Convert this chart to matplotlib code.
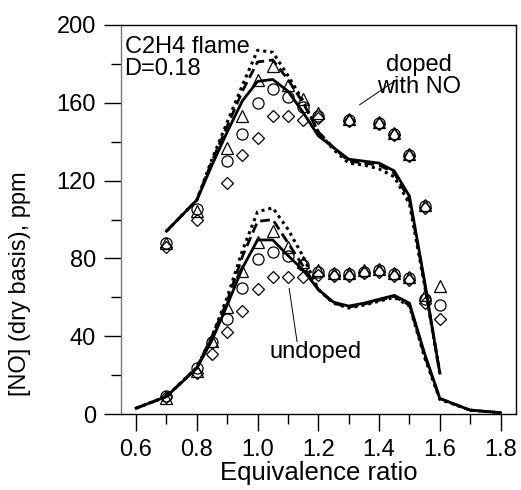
import numpy as np
import matplotlib
matplotlib.use("Agg")
import matplotlib.pyplot as plt
from matplotlib.ticker import MultipleLocator

plt.rcParams["font.family"] = ["Liberation Sans", "DejaVu Sans"]

# =====================
# Дані: експеримент (маркери)
# =====================
phi_doped_exp = [0.7, 0.8, 0.9, 0.95, 1.0, 1.05, 1.1, 1.15, 1.2, 1.3, 1.4, 1.45, 1.5, 1.55, 1.6]
doped_tri = [88, 104.5, 137, 153, 171.5, 179, 169, 162, 155, 151.5, 150, 144.5, 133.5, 107.5, 66]
doped_circ = [88, 105.5, 130, 144, 160, 167, 163, 158, 153, 151, 149.5, 144, 133, 107, 56]
doped_diam = [86, 100, 119, 133, 142, 153, 153, 151, 152, 150.5, 149, 143.5, 132.5, 106, 49]

phi_undoped_exp = [0.7, 0.8, 0.85, 0.9, 0.95, 1.0, 1.05, 1.1, 1.15, 1.2, 1.25, 1.3, 1.35, 1.4, 1.45, 1.5, 1.55]
undoped_tri = [8, 22, 37.5, 55, 73.5, 88.5, 94, 86, 78, 74, 72.5, 72.5, 74, 74.5, 72.5, 70.5, 61]
undoped_circ = [9.5, 23.5, 37, 49, 65, 79.5, 83.5, 81, 76.5, 73, 72, 72, 73, 74, 72, 70, 59]
undoped_diam = [9, 21, 31, 42, 53, 64.5, 70.5, 70.5, 70.5, 71.5, 71, 71, 72.5, 73, 71, 69, 57]

# =====================
# Дані: розрахунок (лінії)
# =====================
phi_doped_calc = [0.7, 0.8, 0.85, 0.9, 0.95, 1.0, 1.05, 1.1, 1.15, 1.2, 1.25, 1.3, 1.35, 1.4, 1.45, 1.5, 1.55, 1.6]
doped_solid = [94, 110, 128, 145, 161, 171, 172, 166, 155, 143, 137, 131, 130, 129, 125, 112, 68, 21]
doped_dash = [94, 110, 130, 148, 166, 181, 182, 172, 160, 145, 137, 130, 129, 128, 124, 110, 67, 21]
doped_dot = [94, 110, 131, 150, 169, 187, 186, 174, 161, 145, 136, 129, 128, 126, 122, 108, 66, 21]

phi_undoped_calc = [0.6, 0.7, 0.8, 0.85, 0.9, 0.95, 1.0, 1.05, 1.1, 1.15, 1.2, 1.25, 1.3, 1.35, 1.4, 1.45, 1.5, 1.55, 1.6, 1.7, 1.8]
undoped_solid = [3, 9, 23.5, 38, 56, 75, 89.5, 89.5, 81.5, 74, 64, 57.5, 55.5, 57, 59, 61, 57, 31, 8, 2, 0.7]
undoped_dash = [3, 9, 24, 40, 58, 81, 99, 100, 88, 76, 64, 57, 55, 56.5, 58.5, 60.5, 56, 30, 8, 2, 0.7]
undoped_dot = [3, 9, 24, 40, 60, 84, 104, 106, 95, 81, 64, 57, 54.5, 56, 58, 60, 55.5, 29, 7.5, 2, 0.7]

# =====================
# Графік
# =====================
fig = plt.figure(figsize=(5.21, 4.9), dpi=100)
ax = fig.add_axes([0.232, 0.155, 0.758, 0.794])

lw = 2.0
for phi, s, d, o in [(phi_doped_calc, doped_solid, doped_dash, doped_dot),
                     (phi_undoped_calc, undoped_solid, undoped_dash, undoped_dot)]:
    ax.plot(phi, o, color="black", lw=2.2, linestyle=(0, (1, 1.3)))
    ax.plot(phi, d, color="black", lw=lw, linestyle=(0, (3.5, 1.8)))
    ax.plot(phi, s, color="black", lw=lw, linestyle="-")

mk = dict(linestyle="none", markerfacecolor="none", markeredgecolor="black", markeredgewidth=0.9)
for phi, tri, circ, diam in [(phi_doped_exp, doped_tri, doped_circ, doped_diam),
                             (phi_undoped_exp, undoped_tri, undoped_circ, undoped_diam)]:
    ax.plot(phi, circ, marker="o", markersize=8, **mk)
    ax.plot(phi, diam, marker="D", markersize=5.8, **mk)
    ax.plot(phi, tri, marker="^", markersize=9, **mk)

# Підписи
ax.text(0.562, 194.5, "C2H4 flame\nD=0.18", fontsize=17, ha="left", va="top", linespacing=1.0)
ax.text(1.531, 174, "doped\nwith NO", fontsize=17, ha="center", va="center", linespacing=1.0)
ax.plot([1.459, 1.336], [172, 159], color="black", lw=0.7)
ax.text(1.192, 32, "undoped", fontsize=17, ha="center", va="center")
ax.plot([1.104, 1.130], [64.6, 37.2], color="black", lw=0.7)

# Осі
ax.set_xlim(0.55, 1.85)
ax.set_ylim(0, 200)
ax.xaxis.set_major_locator(MultipleLocator(0.2))
ax.xaxis.set_minor_locator(MultipleLocator(0.1))
ax.yaxis.set_major_locator(MultipleLocator(40))
ax.yaxis.set_minor_locator(MultipleLocator(20))
ax.xaxis.set_major_formatter(plt.FuncFormatter(lambda v, p: f"{v:.1f}"))

ax.tick_params(axis="both", which="major", direction="out", length=12, width=1, labelsize=17)
ax.tick_params(axis="both", which="minor", direction="out", length=7, width=1)
ax.tick_params(axis="x", which="major", pad=6)
ax.tick_params(axis="y", which="major", pad=6)

for sp in ax.spines.values():
    sp.set_linewidth(1)
ax.spines["left"].set_color("#777777")

ax.set_xlabel("Equivalence ratio", fontsize=18.5, labelpad=0)
ax.set_ylabel("[NO] (dry basis), ppm", fontsize=17)
ax.yaxis.set_label_coords(-0.228, 0.334)

plt.savefig("out.png", dpi=100)
